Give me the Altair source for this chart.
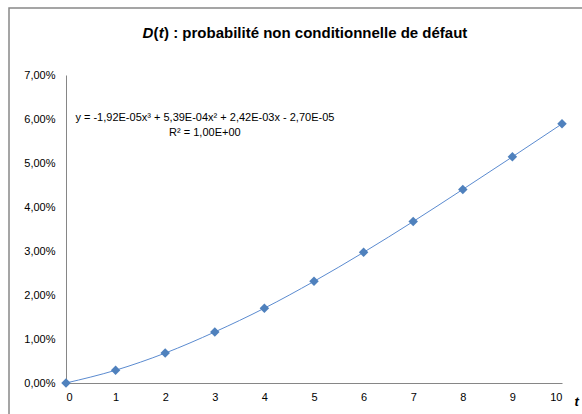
import altair as alt
import pandas as pd

t_values = [0, 1, 2, 3, 4, 5, 6, 7, 8, 9, 10]
d_values = [0.0000, 0.0029, 0.0068, 0.0116, 0.0170, 0.0231, 0.0297, 0.0367, 0.0440, 0.0514, 0.0589]

eq_lines = ["y = -1,92E-05x³ + 5,39E-04x² + 2,42E-03x - 2,70E-05", "R² = 1,00E+00"]
eq_t = [2.8, 2.8]
eq_d = [0.0602, 0.0568]

df = pd.DataFrame({"t": t_values, "D": d_values})
eq = pd.DataFrame({"label": eq_lines, "t": eq_t, "D": eq_d})

FONT = "Liberation Sans"
BLUE = "#4F81BD"

x_enc = alt.X("t:Q", scale=alt.Scale(domain=[0, 10], nice=False),
              axis=alt.Axis(values=t_values, title="t", titleFontStyle="italic",
                            titleFontWeight="bold", titleFontSize=13, titleFont=FONT,
                            titleX=508, titleY=18, titleAlign="left",
                            titleBaseline="middle", titleColor="#000",
                            domainColor="#868686", ticks=False, labelPadding=8,
                            labelFont=FONT, labelFontSize=11, labelColor="#000",
                            grid=False))
y_enc = alt.Y("D:Q", scale=alt.Scale(domain=[0, 0.07], nice=False),
              axis=alt.Axis(values=[0, 0.01, 0.02, 0.03, 0.04, 0.05, 0.06, 0.07],
                            title=None, domainColor="#868686", ticks=False,
                            labelPadding=11, labelFont=FONT, labelFontSize=11,
                            labelColor="#000", grid=False,
                            labelExpr="replace(format(datum.value, '.2%'), '.', ',')"))

line = alt.Chart(df).mark_line(color="#5B8BD0", strokeWidth=1, interpolate="monotone").encode(x=x_enc, y=y_enc)
pts = alt.Chart(df).mark_point(shape="diamond", filled=True, size=90, color=BLUE, opacity=1).encode(x="t:Q", y="D:Q")
txt = alt.Chart(eq).mark_text(font=FONT, fontSize=11, color="#000", align="center").encode(
    x="t:Q", y="D:Q", text="label:N")

border = alt.Chart(pd.DataFrame({"a": [0]})).mark_rect(fill=None, stroke="#888888", strokeWidth=1.5).encode(
    x=alt.value(9 - 66), x2=alt.value(640 - 66), y=alt.value(8 - 75), y2=alt.value(460 - 75))

title_parts = pd.DataFrame({
    "text": ["D", "(", "t", ") : probabilité non conditionnelle de défaut"],
    "x": [142.5 - 66, 153.6 - 66, 158.8 - 66, 164.0 - 66],
    "style": ["italic", "normal", "italic", "normal"],
})
title_layers = []
for _, r in title_parts.iterrows():
    title_layers.append(
        alt.Chart(pd.DataFrame({"s": [r["text"]]})).mark_text(
            font=FONT, fontSize=15, fontWeight="bold", fontStyle=r["style"],
            align="left", baseline="middle", color="#000").encode(
            x=alt.value(float(r["x"])), y=alt.value(33 - 75), text="s:N"))

chart = alt.layer(border, line, pts, txt, *title_layers).properties(
    width=496, height=308,
    autosize=alt.AutoSizeParams(type="none"),
    padding={"left": 66, "top": 75, "right": 20, "bottom": 31},
    background="white",
).configure_view(stroke=None)

chart.save("out.html", embed_options={"renderer": "svg", "actions": False})
